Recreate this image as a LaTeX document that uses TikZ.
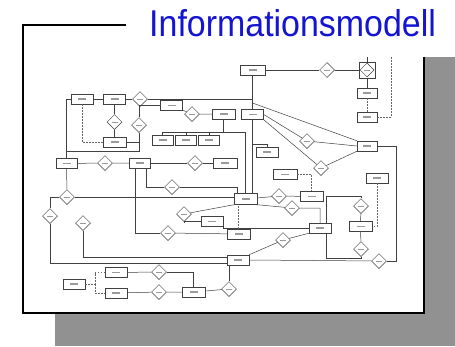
\documentclass[tikz,border=0pt]{standalone}
\usepackage{fontspec}
\usepackage{tikz}
\usepackage{xcolor}
\usetikzlibrary{shapes.geometric}
\newfontfamily\titelfont[FakeStretch=0.91]{Liberation Sans}
\definecolor{titelblau}{RGB}{20,20,210}
\definecolor{schatten}{RGB}{145,145,145}
\tikzset{
Entitaet/.style={
 rectangle,
 draw=black!75,
 line width=0.5pt,
 fill=white,
 minimum width=#1,
 minimum height=10pt,
 inner sep=0pt,
 path picture={\fill[black!40] ([xshift=-4pt,yshift=-0.6pt]path picture bounding box.center) rectangle ([xshift=4pt,yshift=0.6pt]path picture bounding box.center);}
 },
Entitaet/.default={22pt},
Beziehung/.style={
 diamond,
 draw=black!75,
 line width=0.5pt,
 fill=white,
 minimum width=15pt,
 minimum height=15pt,
 inner sep=0pt,
 path picture={\fill[black!40] ([xshift=-3pt,yshift=-0.5pt]path picture bounding box.center) rectangle ([xshift=3pt,yshift=0.5pt]path picture bounding box.center);}
 },
Linie/.style={
 draw=black!75,
 line width=0.5pt
 },
GLinie/.style={
 draw=black!60,
 line width=0.5pt,
 dash pattern=on 1.5pt off 1.5pt
 },
Rahmen/.style={
 draw=black,
 line width=1.5pt
 }
}

\begin{document}
\begin{tikzpicture}[x=1pt,y=-1pt]
\useasboundingbox (0,0) rectangle (455,346);
% Folie
\fill[schatten] (55,57) rectangle (455,346);
\fill[white] (23,25) rectangle (424,313);
\draw[Rahmen] (126,25) -- (23,25) -- (23,313) -- (424,313) -- (424,57);
\node[anchor=base west,inner sep=0pt,text=titelblau] (titel) at (149,36.6)
 {\titelfont\fontsize{37.3}{40}\selectfont Informationsmodell};
% Entitaeten
\node[Entitaet] (E1) at (82,99) {};
\node[Entitaet] (E2) at (114.5,99) {};
\node[Entitaet] (E3) at (171.5,105.5) {};
\node[Entitaet=23pt] (E4) at (223.5,114) {};
\node[Entitaet=23pt] (E5) at (114.5,142) {};
\node[Entitaet=21pt] (E6a) at (162.5,140) {};
\node[Entitaet=21pt] (E6b) at (186,140) {};
\node[Entitaet=21pt] (E6c) at (209,140) {};
\node[Entitaet=21pt] (E7) at (66.5,163.5) {};
\node[Entitaet=21pt] (E8) at (139.5,163) {};
\node[Entitaet=24pt] (E9) at (225,163) {};
\node[Entitaet=25pt] (E10) at (252.5,70) {};
\node[Entitaet=16pt,minimum height=16pt] (E11) at (367,70) {};
\node[Beziehung,minimum width=14pt,minimum height=14pt] (E11b) at (367,70) {};
\node[Entitaet=20pt] (E12) at (367,93) {};
\node[Entitaet=20pt] (E13) at (367,117) {};
\node[Entitaet] (E14) at (252.5,114.5) {};
\node[Entitaet=20pt] (E15) at (367,146) {};
\node[Entitaet] (E16) at (267,152) {};
\node[Entitaet=24pt] (E17) at (285,174.5) {};
\node[Entitaet] (E18) at (377,178) {};
\node[Entitaet=23pt] (E19) at (311.5,196.5) {};
\node[Entitaet=23pt,minimum height=11pt] (E20) at (245.5,199) {};
\node[Entitaet] (E21) at (320,228) {};
\node[Entitaet=23pt] (E22) at (360.5,226.5) {};
\node[Entitaet=23pt] (E23) at (238.5,234) {};
\node[Entitaet] (E24) at (238,260) {};
\node[Entitaet] (E25) at (212,221.5) {};
\node[Entitaet] (E26) at (116,272.5) {};
\node[Entitaet] (E27) at (74,284) {};
\node[Entitaet] (E28) at (116,293) {};
\node[Entitaet=23pt] (E29) at (193.5,292) {};
% Beziehungen
\node[Beziehung] (B1) at (140,99) {};
\node[Beziehung] (B2) at (192,114) {};
\node[Beziehung] (B3) at (114.5,122) {};
\node[Beziehung] (B4) at (139,125) {};
\node[Beziehung] (B5) at (105,163) {};
\node[Beziehung] (B6) at (195,163) {};
\node[Beziehung] (B7) at (172,187) {};
\node[Beziehung] (B8) at (67,197) {};
\node[Beziehung] (B9) at (50,216) {};
\node[Beziehung] (B10) at (83,223) {};
\node[Beziehung] (B11) at (184,214) {};
\node[Beziehung] (B12) at (168,233) {};
\node[Beziehung] (B13) at (327,70) {};
\node[Beziehung] (B14) at (307,141) {};
\node[Beziehung] (B15) at (321,168) {};
\node[Beziehung] (B16) at (279,196) {};
\node[Beziehung] (B17) at (292,208) {};
\node[Beziehung] (B18) at (361,206) {};
\node[Beziehung] (B19) at (361,249) {};
\node[Beziehung] (B20) at (283,240) {};
\node[Beziehung] (B21) at (379,261) {};
\node[Beziehung] (B22) at (229,289) {};
\node[Beziehung] (B23) at (159,272) {};
\node[Beziehung] (B24) at (159,292) {};
% Hilfspunkte
\coordinate (Rand) at (391,57);
\coordinate (Oben) at (367,57);
\coordinate (Knick) at (252.5,103);
\coordinate (Ecke) at (396,261);
\coordinate (SchleifeO) at (326,196);
\coordinate (SchleifeU) at (326,258);
\coordinate (Gabel) at (95,284);
\coordinate (Baum) at (223.5,132);
\coordinate (BaumEnde) at (245.5,132);
\coordinate (Links) at (66.5,151);
% Verbindungen oben
\draw[Linie] (E1) -- (E2);
\draw[Linie] (E2) -- (B1);
\draw[Linie] (B1) -| (E10);
\draw[Linie] (E10) -- (B13);
\draw[Linie] (B13) -- (E11);
\draw[Linie] (E11) -- (E12);
\draw[Linie] (E11) -- (Oben);
\draw[GLinie] (E12) -- (E13);
\draw[GLinie] (E13) -| (Rand);
\draw[Linie] (E14) -- (E10);
\draw[Linie] (Knick) -- (E15.north west);
\draw[Linie] (E14.east) -- (B14) -- (E15.west);
\draw[Linie] (E14.south east) -- (B15) -- (E15.south west);
\draw[Linie] (E14) -- (E14 |- E20.north);
\draw[Linie] (E16.north) -- ++(0,-3) -| (E14.south);
\draw[Linie] (E15) -| (Ecke) -- (B21);
% Verbindungen links
\draw[GLinie] (E1) |- (E5);
\draw[Linie] (E2) -- (B3) -- (E5);
\draw[Linie] (E5) -| (B4);
\draw[Linie] (B4) |- (E3);
\draw[Linie] (E3) -- (B2) -- (E4);
\draw[Linie] (E4) -- (Baum);
\draw[Linie] (E6a) |- (BaumEnde) -- (E20.north -| BaumEnde);
\draw[Linie] (E6b) -- (E6b |- Baum);
\draw[Linie] (E6c) -- (E6c |- Baum);
\draw[Linie] (E1) -| (E7);
\draw[Linie] (Links) -| (B4);
\draw[Linie] (E7) -- (B5) -- (E8);
\draw[Linie] (E8) -- (B6) -- (E9);
\draw[Linie] ([xshift=-4pt]E8.south east) |- (B7);
\draw[Linie] (B7) -| ([xshift=3pt]E20.north west);
\draw[Linie] ([xshift=-4.5pt]E8.south) |- (B12);
\draw[Linie] (B12) -- (E23);
\draw[Linie] (E7) -- (B8);
\draw[Linie] (B8) -- (B8 -| E20.west);
\draw[Linie] (B9) |- (B8);
\draw[Linie] (B9) |- (E24.195);
\draw[Linie] (B10) |- (E24.165);
\draw[Linie] (B11) |- (E25);
\draw[Linie] (B11) -- (E20.south west);
\draw[Linie] (E25.east) |- (E21.west);
% Verbindungen Mitte und rechts
\draw[Linie] (E20) -- (B16) -- (E19);
\draw[Linie] (E20.south east) -- (B17) -| (E21);
\draw[GLinie] (E17) -| (E19);
\draw[GLinie] (E18) |- (E22);
\draw[GLinie] (E23) -- (E23 |- E20.south);
\draw[Linie] (B18) |- (SchleifeO) -- (SchleifeO |- E21.north);
\draw[Linie] (SchleifeU |- E21.south) -- (SchleifeU) -| (B19);
\draw[Linie] (B18) -- (E22) -- (B19);
\draw[Linie] (E24.north east) -- (B20) -- (E21.south west);
\draw[Linie] (E24.east) -- (B21);
\draw[Linie] (B22) -- (B22 |- E24.south);
% Verbindungen unten
\draw[Linie] (B22) -- (E29);
\draw[Linie] (E29) -- (B24) -- (E28);
\draw[Linie] (E29.north) |- (B23);
\draw[Linie] (B23) -- (E26);
\draw[GLinie] (E27) -- (Gabel) |- (E26);
\draw[GLinie] (Gabel) |- (E28);
\end{tikzpicture}
\end{document}
